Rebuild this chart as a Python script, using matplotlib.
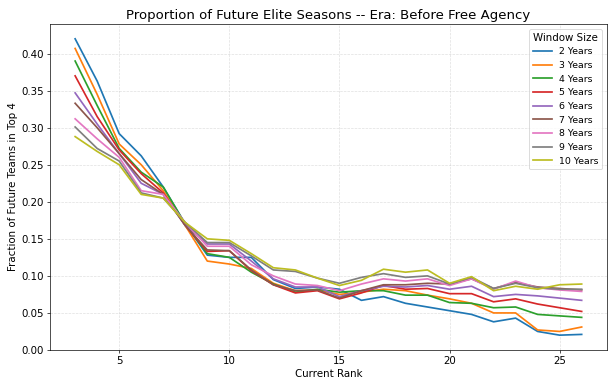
import numpy as np
import matplotlib
matplotlib.use('Agg')
import matplotlib.pyplot as plt

# current rank on the x axis
ranks = list(range(3, 27))

# fraction of future teams in top 4, one list per window size
y2 = [0.420, 0.363, 0.292, 0.262, 0.220, 0.170, 0.128, 0.125, 0.125, 0.095, 0.083, 0.085, 0.082, 0.067, 0.072, 0.063, 0.058, 0.053, 0.048, 0.038, 0.043, 0.025, 0.020, 0.021]
y3 = [0.407, 0.345, 0.278, 0.250, 0.215, 0.168, 0.120, 0.116, 0.110, 0.090, 0.080, 0.081, 0.075, 0.078, 0.082, 0.080, 0.074, 0.069, 0.063, 0.050, 0.050, 0.027, 0.025, 0.031]
y4 = [0.390, 0.330, 0.272, 0.240, 0.220, 0.170, 0.130, 0.125, 0.105, 0.089, 0.078, 0.082, 0.078, 0.080, 0.080, 0.074, 0.074, 0.064, 0.063, 0.057, 0.058, 0.048, 0.046, 0.044]
y5 = [0.370, 0.315, 0.270, 0.238, 0.212, 0.168, 0.133, 0.134, 0.107, 0.088, 0.077, 0.080, 0.069, 0.077, 0.087, 0.082, 0.083, 0.076, 0.076, 0.065, 0.069, 0.062, 0.057, 0.052]
y6 = [0.347, 0.305, 0.265, 0.225, 0.210, 0.168, 0.143, 0.143, 0.120, 0.096, 0.085, 0.085, 0.072, 0.080, 0.086, 0.085, 0.087, 0.082, 0.086, 0.072, 0.075, 0.073, 0.070, 0.067]
y7 = [0.333, 0.300, 0.265, 0.230, 0.210, 0.168, 0.135, 0.134, 0.108, 0.088, 0.080, 0.081, 0.070, 0.080, 0.088, 0.088, 0.090, 0.089, 0.096, 0.083, 0.091, 0.085, 0.083, 0.081]
y8 = [0.312, 0.285, 0.260, 0.215, 0.210, 0.172, 0.140, 0.140, 0.115, 0.100, 0.089, 0.087, 0.080, 0.089, 0.096, 0.093, 0.096, 0.087, 0.096, 0.082, 0.093, 0.084, 0.081, 0.079]
y9 = [0.301, 0.272, 0.255, 0.212, 0.205, 0.172, 0.145, 0.145, 0.127, 0.108, 0.106, 0.097, 0.090, 0.098, 0.103, 0.098, 0.100, 0.089, 0.098, 0.083, 0.090, 0.084, 0.082, 0.082]
y10 = [0.288, 0.268, 0.250, 0.210, 0.205, 0.172, 0.150, 0.148, 0.130, 0.111, 0.108, 0.097, 0.087, 0.094, 0.109, 0.105, 0.108, 0.090, 0.099, 0.080, 0.086, 0.082, 0.088, 0.089]

series = [y2, y3, y4, y5, y6, y7, y8, y9, y10]
labels = ['2 Years', '3 Years', '4 Years', '5 Years', '6 Years', '7 Years', '8 Years', '9 Years', '10 Years']

fig, ax = plt.subplots(figsize=(10, 6.31), dpi=61.5)

for vals, lab in zip(series, labels):
    ax.plot(ranks, vals, linewidth=2, label=lab)

ax.set_title('Proportion of Future Elite Seasons -- Era: Before Free Agency', fontsize=15.5)
ax.set_xlabel('Current Rank', fontsize=12)
ax.set_ylabel('Fraction of Future Teams in Top 4', fontsize=12)
ax.tick_params(labelsize=12)
ax.grid(True, linestyle='--', alpha=0.4)
ax.set_ylim(bottom=0)
ax.legend(title='Window Size', loc='upper right', fontsize=11, title_fontsize=12)

fig.subplots_adjust(left=0.081, right=0.987, top=0.938, bottom=0.098)
fig.savefig('out.png')
